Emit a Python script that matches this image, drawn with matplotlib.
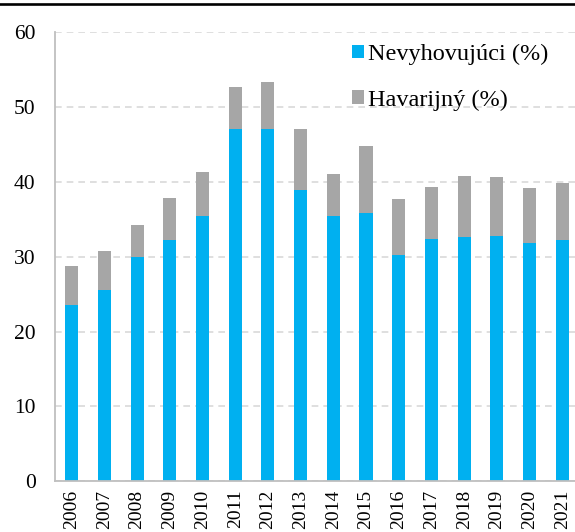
import matplotlib
matplotlib.use("Agg")
import matplotlib.pyplot as plt
from matplotlib.lines import Line2D
import numpy as np

years = ["2006", "2007", "2008", "2009", "2010", "2011", "2012", "2013",
         "2014", "2015", "2016", "2017", "2018", "2019", "2020", "2021"]
nevyhovujuci = [23.5, 25.6, 30.0, 32.2, 35.5, 47.1, 47.1, 38.9,
                35.5, 35.9, 30.3, 32.4, 32.7, 32.8, 31.8, 32.2]
havarijny = [5.3, 5.2, 4.3, 5.6, 5.9, 5.6, 6.3, 8.2,
             5.6, 8.9, 7.4, 7.0, 8.1, 7.9, 7.4, 7.7]
labels = ["Nevyhovujúci (%)", "Havarijný (%)"]
yticks = [0, 10, 20, 30, 40, 50, 60]

plt.rcParams['font.family'] = ['Liberation Serif', 'DejaVu Serif']

W, H = 575, 532
fig = plt.figure(figsize=(W / 100, H / 100), dpi=100)
ax = fig.add_axes([55 / W, (H - 481.3) / H, 1 - 55 / W, (481.3 - 32.4) / H])

x = np.arange(len(years))
blue = "#00B0F0"
gray = "#A6A6A6"
ax.bar(x, nevyhovujuci, width=0.4, color=blue, label=labels[0], zorder=3)
ax.bar(x, havarijny, width=0.4, bottom=nevyhovujuci, color=gray,
       label=labels[1], zorder=3)

ax.set_ylim(0, 60)
ax.set_xlim(-0.51, 15.39)
ax.set_yticks(yticks)
ax.set_yticklabels([str(t) for t in yticks], fontsize=15.5)
ax.set_xticks(x)
ax.set_xticklabels(years, rotation=90, fontsize=14)
ax.tick_params(axis='y', length=0, pad=14)
ax.tick_params(axis='x', length=0, pad=6)

ax.yaxis.grid(True, color="#D9D9D9", linewidth=1.2, linestyle=(0, (4, 3)), zorder=0)
ax.set_axisbelow(True)
for s in ["top", "right"]:
    ax.spines[s].set_visible(False)
for s in ["left", "bottom"]:
    ax.spines[s].set_color("#BFBFBF")
    ax.spines[s].set_linewidth(1.3)
ax.spines["bottom"].set_zorder(4)

ax.legend(loc="upper left", bbox_to_anchor=(352 / W, 1 - 44 / H),
          bbox_transform=fig.transFigure, frameon=False, fontsize=17.5,
          handlelength=0.5, handleheight=0.5, handletextpad=0.15,
          labelspacing=1.0, borderpad=0, borderaxespad=0)

fig.add_artist(Line2D([0, 1], [1 - 4.3 / H, 1 - 4.3 / H], color="black",
                      linewidth=1.9, transform=fig.transFigure))

fig.savefig("out.png", dpi=100)
